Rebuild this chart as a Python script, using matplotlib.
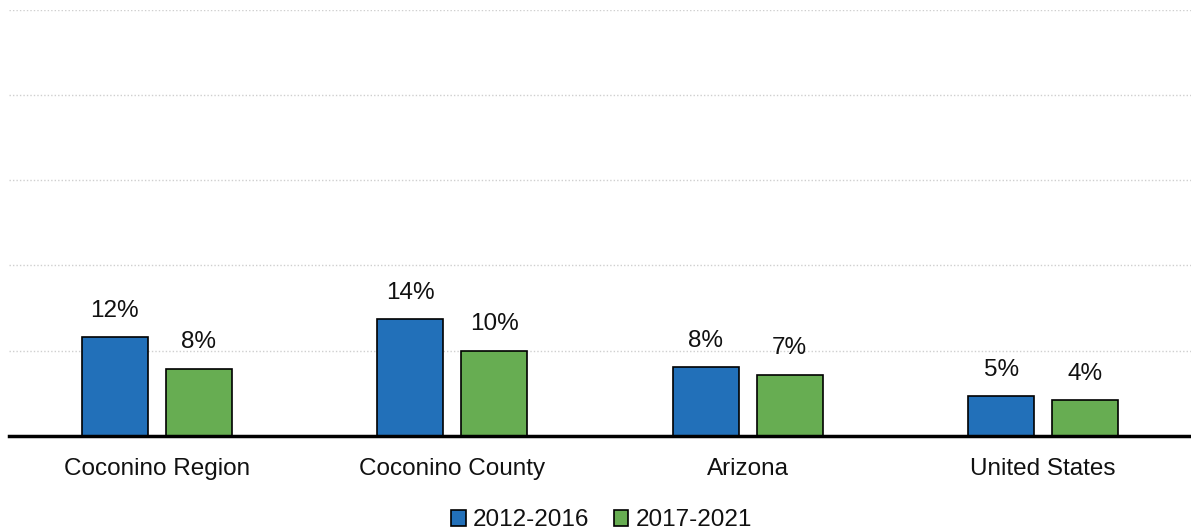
import matplotlib
matplotlib.use("Agg")
import matplotlib.pyplot as plt
import numpy as np

categories = ["Coconino Region", "Coconino County", "Arizona", "United States"]
series_names = ["2012-2016", "2017-2021"]
vals_2012 = [11.6, 13.7, 8.1, 4.7]
vals_2017 = [7.9, 10.0, 7.2, 4.2]
labels_2012 = ["12%", "14%", "8%", "5%"]
labels_2017 = ["8%", "10%", "7%", "4%"]

plt.rcParams["font.family"] = ["Liberation Sans", "DejaVu Sans"]

W, H = 1191, 532
fig = plt.figure(figsize=(W / 100, H / 100), dpi=100)
ax = fig.add_axes([9 / W, (H - 436) / H, (W - 9) / W, (436 - 9.5) / H])

x = np.arange(len(categories))
bw = 0.223
off = 0.142
colors = ["#2270B9", "#67AD52"]
fs = 17.5

for vals, labs, sign, c, name in [(vals_2012, labels_2012, -1, colors[0], series_names[0]),
                                  (vals_2017, labels_2017, 1, colors[1], series_names[1])]:
    bars = ax.bar(x + sign * off, vals, width=bw, color=c, edgecolor="black",
                  linewidth=1.2, label=name, zorder=3)
    for b, lab in zip(bars, labs):
        ax.annotate(lab, (b.get_x() + b.get_width() / 2, b.get_height()),
                    xytext=(0, 11), textcoords="offset points",
                    ha="center", va="bottom", fontsize=fs, color="#111111")

ax.set_xlim(-0.5, 3.5)
ax.set_ylim(0, 50)
ax.set_yticks([10, 20, 30, 40, 50])
ax.yaxis.grid(True, linestyle=(0, (1, 1.5)), color="#cfcfcf", linewidth=1, zorder=0)
ax.tick_params(axis="y", left=False, labelleft=False)
ax.tick_params(axis="x", bottom=False, labelsize=fs, pad=12)
ax.set_xticks(x)
ax.set_xticklabels(categories, color="#111111")
for s in ["top", "right", "left"]:
    ax.spines[s].set_visible(False)
ax.spines["bottom"].set_linewidth(2.5)
ax.spines["bottom"].set_zorder(4)

fig.legend(loc="lower center", bbox_to_anchor=(0.505, -0.04), ncol=2, frameon=False,
           fontsize=fs, handlelength=0.6, handleheight=0.6, handletextpad=0.3,
           columnspacing=1.0, labelcolor="#111111")

fig.savefig("out.png", dpi=100)
